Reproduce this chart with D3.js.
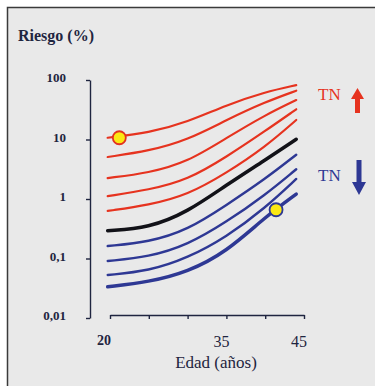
<!DOCTYPE html>
<html>
<head>
<meta charset="utf-8">
<script src="https://cdn.jsdelivr.net/npm/d3@7"></script>
<style>
  html, body { margin: 0; padding: 0; background: #fff; }
  svg { display: block; }
</style>
</head>
<body>
<svg width="375" height="386"></svg>
<script>
// ages where each curve was read (curves start slightly left of 20)
const ages = [19.7, 25, 30, 35, 40, 44];

// risk (%) curves, highest TN first
const red1 = [10.7, 12.9, 19.7, 38, 63, 82];
const red2 = [5.08, 6.4, 9.8, 21.3, 42.7, 66];
const red3 = [2.25, 2.73, 4.19, 10.6, 25.8, 46];
const red4 = [1.12, 1.42, 2.09, 5.08, 13.9, 32.2];
const red5 = [0.63, 0.79, 1.17, 2.73, 7.48, 21.3];
const baseCurve = [0.293, 0.326, 0.605, 1.72, 4.52, 10.1];
const blue1 = [0.162, 0.189, 0.301, 0.79, 2.17, 5.55];
const blue2 = [0.0908, 0.106, 0.169, 0.41, 1.17, 3.16];
const blue3 = [0.0528, 0.0616, 0.102, 0.23, 0.706, 2.17];
const blue4 = [0.0336, 0.0403, 0.0593, 0.129, 0.498, 1.21];

const yTicks = [100, 10, 1, 0.1, 0.01];
const yTickLabels = ["100", "10", "1", "0,1", "0,01"];
const xTicks = [20, 25, 30, 35, 40, 45];
const highlights = [
  { age: 21.2, risk: 10.7, ring: "#e3321f" },
  { age: 41.4, risk: 0.66, ring: "#2d3893" }
];

const RED = "#e6331f", BLUE = "#2e3894", INK = "#1f2540";

let svg = d3.select("svg");

// panel
svg.append("rect")
  .attr("x", 7.5).attr("y", 7.5)
  .attr("width", 372).attr("height", 382)
  .attr("fill", "#e9e9e9")
  .attr("stroke", "#3a3a3a")
  .attr("stroke-width", 1.5);

let x = d3.scaleLinear().domain([20, 45]).range([110, 304]);
let y = d3.scaleLog().domain([0.01, 100]).range([318, 80]);

// y axis
let yAxis = d3.axisLeft(y)
  .tickValues(yTicks)
  .tickSize(4)
  .tickSizeOuter(0)
  .tickFormat("");
let gy = svg.append("g").attr("transform", "translate(90,0)").call(yAxis);
gy.selectAll("path, line").attr("stroke", INK).attr("stroke-width", 1.4);

svg.append("g").selectAll("text")
  .data(yTicks)
  .enter().append("text")
  .attr("x", 66)
  .attr("y", (d) => y(d) + 2)
  .attr("text-anchor", "end")
  .style("font-family", "Liberation Serif, serif")
  .style("font-weight", "bold")
  .style("font-size", "13px")
  .style("fill", INK)
  .text((d, i) => yTickLabels[i]);

// x axis
let xAxis = d3.axisBottom(x)
  .tickValues(xTicks)
  .tickSize(4)
  .tickSizeOuter(0)
  .tickFormat("");
let gx = svg.append("g").attr("transform", "translate(0,315)").call(xAxis);
gx.selectAll("path, line").attr("stroke", INK).attr("stroke-width", 1.4);

svg.append("text")
  .attr("x", x(20) - 6).attr("y", 345)
  .attr("text-anchor", "middle")
  .style("font-family", "Liberation Serif, serif")
  .style("font-weight", "bold")
  .style("font-size", "14px")
  .style("fill", INK)
  .text("20");
[35, 45].forEach((v) => {
  svg.append("text")
    .attr("x", x(v) - 5).attr("y", 347)
    .attr("text-anchor", "middle")
    .style("font-family", "Liberation Serif, serif")
    .style("font-size", "16px")
    .style("fill", INK)
    .text(v);
});

svg.append("text")
  .attr("x", 216).attr("y", 368)
  .attr("text-anchor", "middle")
  .style("font-family", "Liberation Serif, serif")
  .style("font-size", "17px")
  .style("fill", INK)
  .text("Edad (años)");

svg.append("text")
  .attr("x", 18).attr("y", 41)
  .style("font-family", "Liberation Serif, serif")
  .style("font-weight", "bold")
  .style("font-size", "16px")
  .style("fill", INK)
  .text("Riesgo (%)");

// curves
let series = [
  { values: red1, color: RED, width: 2.2 },
  { values: red2, color: RED, width: 2.2 },
  { values: red3, color: RED, width: 2.2 },
  { values: red4, color: RED, width: 2.2 },
  { values: red5, color: RED, width: 2.2 },
  { values: baseCurve, color: "#121218", width: 3.5 },
  { values: blue1, color: BLUE, width: 2.4 },
  { values: blue2, color: BLUE, width: 2.4 },
  { values: blue3, color: BLUE, width: 2.4 },
  { values: blue4, color: BLUE, width: 3.5 }
];

let line = d3.line()
  .x((d) => x(d[0]))
  .y((d) => y(d[1]))
  .curve(d3.curveBasis);

svg.append("g").selectAll("path")
  .data(series)
  .enter().append("path")
  .attr("d", (s) => line(ages.map((a, i) => [a, s.values[i]])))
  .attr("fill", "none")
  .attr("stroke", (s) => s.color)
  .attr("stroke-width", (s) => s.width)
  .attr("stroke-linecap", "round");

svg.append("g").selectAll("circle")
  .data(highlights)
  .enter().append("circle")
  .attr("cx", (d) => x(d.age))
  .attr("cy", (d) => y(d.risk))
  .attr("r", 6.5)
  .attr("fill", "#fbe812")
  .attr("stroke", (d) => d.ring)
  .attr("stroke-width", 1.8);

// TN labels with arrows
svg.append("text")
  .attr("x", 318).attr("y", 100)
  .style("font-family", "Liberation Serif, serif")
  .style("font-size", "17px")
  .style("fill", RED)
  .text("TN");
svg.append("path")
  .attr("d", "M357.5,88 L364,99 L360,99 L360,113 L355,113 L355,99 L351,99 Z")
  .attr("fill", RED);

svg.append("text")
  .attr("x", 318).attr("y", 181)
  .style("font-family", "Liberation Serif, serif")
  .style("font-size", "17px")
  .style("fill", BLUE)
  .text("TN");
svg.append("path")
  .attr("d", "M356.5,160 L361.5,160 L361.5,182 L366,182 L359,195 L352,182 L356.5,182 Z")
  .attr("fill", BLUE);
</script>
</body>
</html>
